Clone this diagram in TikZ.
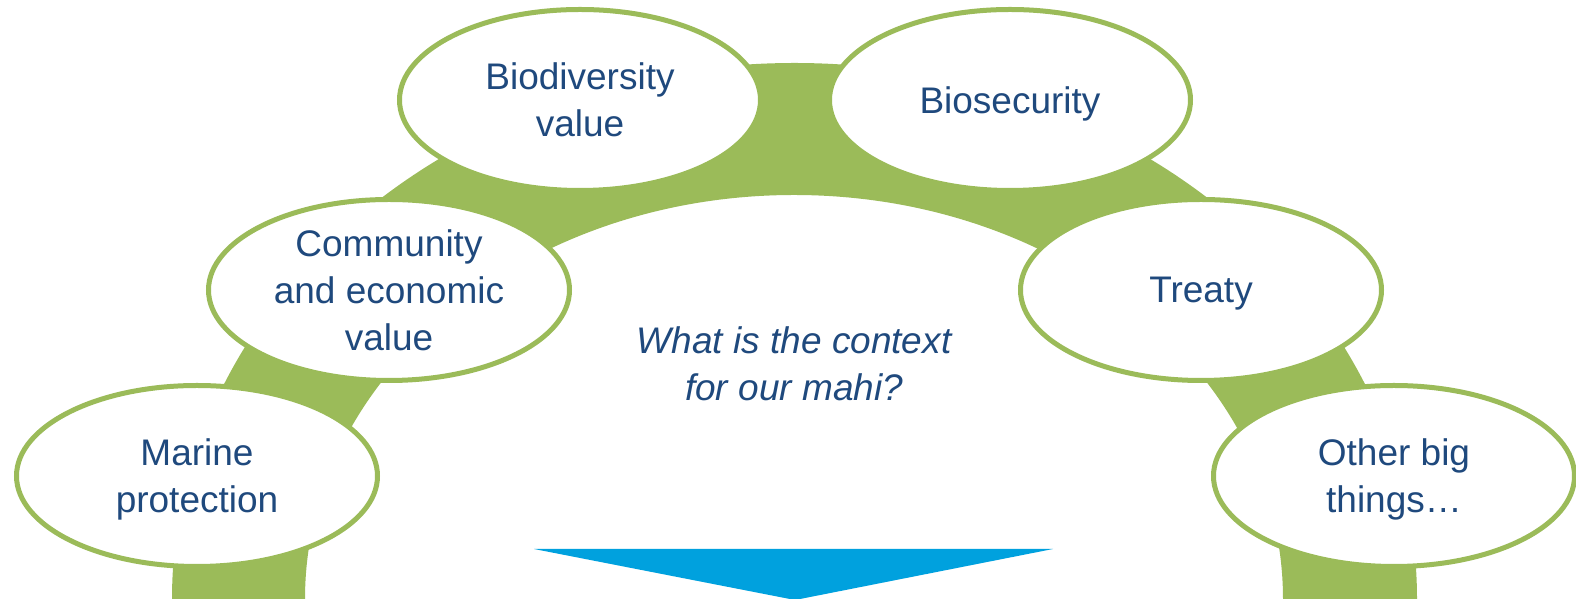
\documentclass[tikz,border=0pt]{standalone}
\usepackage{fontspec}
\setmainfont{Liberation Sans}
\usetikzlibrary{shapes.geometric}
\definecolor{leaf}{HTML}{9BBB59}
\definecolor{ink}{HTML}{1F497D}
\definecolor{sky}{HTML}{00A1DE}

\begin{document}
\begin{tikzpicture}[x = 0.5pt, y = 0.5pt]

    \tikzset{bubble/.style={draw=leaf,line width=2.5pt,fill=white,shape=ellipse,minimum width=180.5pt,minimum height=90.5pt,inner sep=0pt,text depth=0pt,align=center,text=ink,font=\fontsize{18.5}{23.5}\selectfont}}
    \useasboundingbox (0,0) rectangle (1576,599);

    % arco verde
    \fill[leaf] (172,0) arc[start angle=180, end angle=0, x radius=622.5, y radius=536]
        -- (1283,0) arc[start angle=0, end angle=180, x radius=489, y radius=404] -- cycle;

    % flecha
    \coordinate (a1) at (534,50);
    \coordinate (a2) at (1053,50);
    \coordinate (a3) at (795,-1);
    \fill[sky] (a1) -- (a2) -- (a3) -- cycle;

    \node[bubble] (marine) at ( 197, 123) {Marine\\protection};
    \node[bubble] (community) at ( 389, 309) {Community\\and economic\\value};
    \node[bubble] (biodiv) at ( 580, 499) {Biodiversity\\value};
    \node[bubble] (biosec) at ( 1010, 499) {Biosecurity};
    \node[bubble] (treaty) at ( 1201, 309) {Treaty};
    \node[bubble] (other) at ( 1394, 123) {Other big\\things…};

    \node[align=center,text=ink,font=\fontsize{18.5}{23.5}\selectfont\itshape] (context) at ( 794, 235) {What is the context\\for our mahi?};

\end{tikzpicture}
\end{document}
